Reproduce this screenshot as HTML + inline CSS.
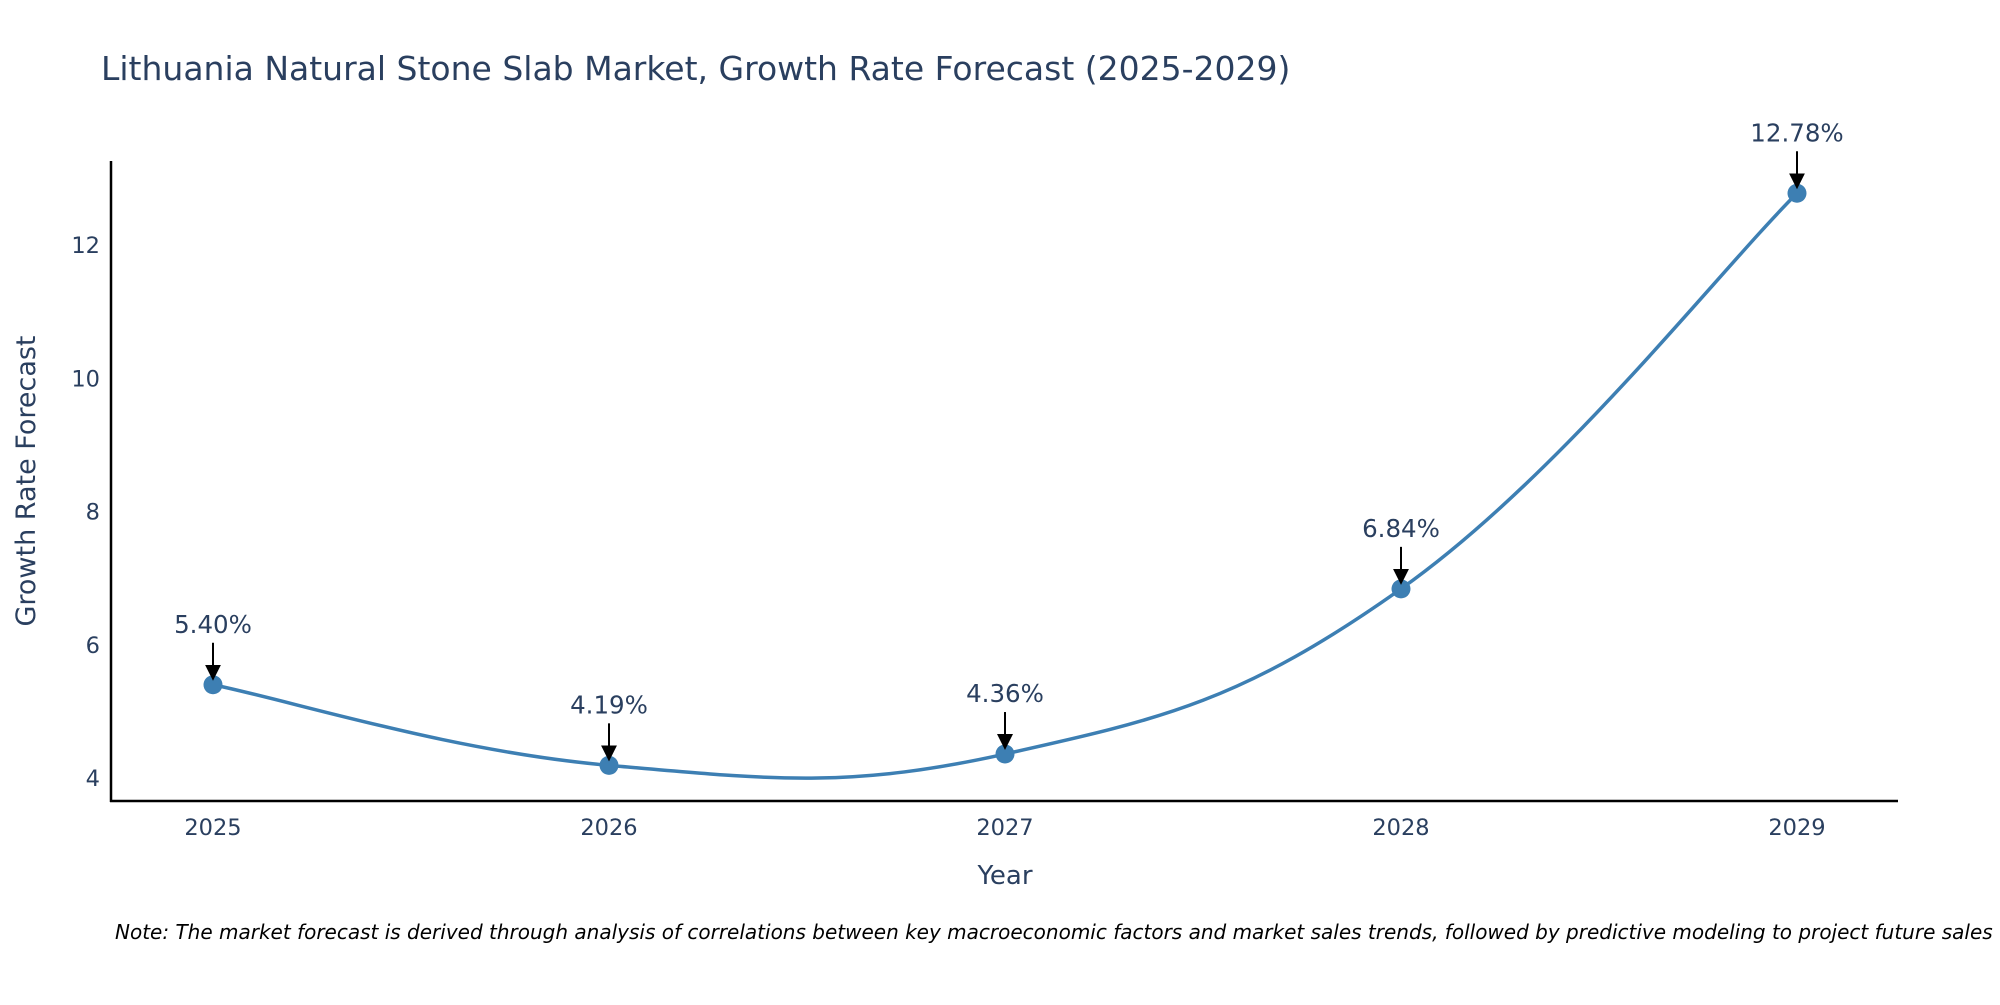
<!DOCTYPE html>
<html><head><meta charset="utf-8"><style>
body{margin:0;background:#fff}
svg text{font-family:"DejaVu Sans","Liberation Sans",sans-serif;fill:#2a3f5f}
</style></head><body>
<svg width="2000" height="1000" id="c">
<text x="101" y="80" font-size="33">Lithuania Natural Stone Slab Market, Growth Rate Forecast (2025-2029)</text>
<line x1="111" y1="161" x2="111" y2="802" stroke="#000" stroke-width="2.5"/>
<line x1="110" y1="801" x2="1898" y2="801" stroke="#000" stroke-width="2.5"/>
<g id="yt"></g>
<g id="xt"></g>
<text x="1005" y="884" font-size="26" text-anchor="middle">Year</text>
<text transform="translate(35,481) rotate(-90)" font-size="27" text-anchor="middle">Growth Rate Forecast</text>
<path id="ln" fill="none" stroke="#3d7fb3" stroke-width="3.5"/>
<g id="pts"></g>
<text x="115" y="939" font-size="20" font-style="italic" style="fill:#000">Note: The market forecast is derived through analysis of correlations between key macroeconomic factors and market sales trends, followed by predictive modeling to project future sales</text>
</svg>
<script>
const years=["2025","2026","2027","2028","2029"];
const values=[5.40,4.19,4.36,6.84,12.78];
const yTicks=[4,6,8,10,12];
const NS="http://www.w3.org/2000/svg";
function X(i){return 213+i*396;}
function Y(v){return 778-(v-4)*66.6;}
function mk(t,a,p){const e=document.createElementNS(NS,t);for(const k in a)e.setAttribute(k,a[k]);p.appendChild(e);return e;}
const yt=document.getElementById('yt'),xt=document.getElementById('xt'),pts=document.getElementById('pts');
yTicks.forEach(v=>{const t=mk('text',{x:100,y:Y(v)+8,'font-size':22.5,'text-anchor':'end'},yt);t.textContent=v;

});
years.forEach((y,i)=>{const t=mk('text',{x:X(i),y:835,'font-size':22.5,'text-anchor':'middle'},xt);t.textContent=y;

});
const P=values.map((v,i)=>[X(i),Y(v)]);
let d="M"+P[0][0]+","+P[0][1];const s=0.2;
for(let i=0;i<P.length-1;i++){const p0=P[Math.max(0,i-1)],p1=P[i],p2=P[i+1],p3=P[Math.min(P.length-1,i+2)];
d+=" C"+(p1[0]+(p2[0]-p0[0])*s)+","+(p1[1]+(p2[1]-p0[1])*s)+" "+(p2[0]-(p3[0]-p1[0])*s)+","+(p2[1]-(p3[1]-p1[1])*s)+" "+p2[0]+","+p2[1];}
document.getElementById('ln').setAttribute('d',d);
const defs=mk('defs',{},document.getElementById('c'));
const m=mk('marker',{id:'ah',markerWidth:8,markerHeight:8,refX:7,refY:4,orient:'auto',markerUnits:'strokeWidth'},defs);
mk('path',{d:'M0,0 L8,4 L0,8 Z',fill:'#000'},m);
P.forEach((p,i)=>{
const c=mk('circle',{cx:p[0],cy:p[1],r:9.5,fill:'#3d7fb3'},pts);


const a=mk('line',{x1:p[0],y1:p[1]-42,x2:p[0],y2:p[1]-6,stroke:'#000','stroke-width':2,'marker-end':'url(#ah)'},pts);


const t=mk('text',{x:p[0],y:p[1]-52,'font-size':24.5,'text-anchor':'middle'},pts);
t.textContent=values[i].toFixed(2)+"%";


});
</script>
</body></html>
